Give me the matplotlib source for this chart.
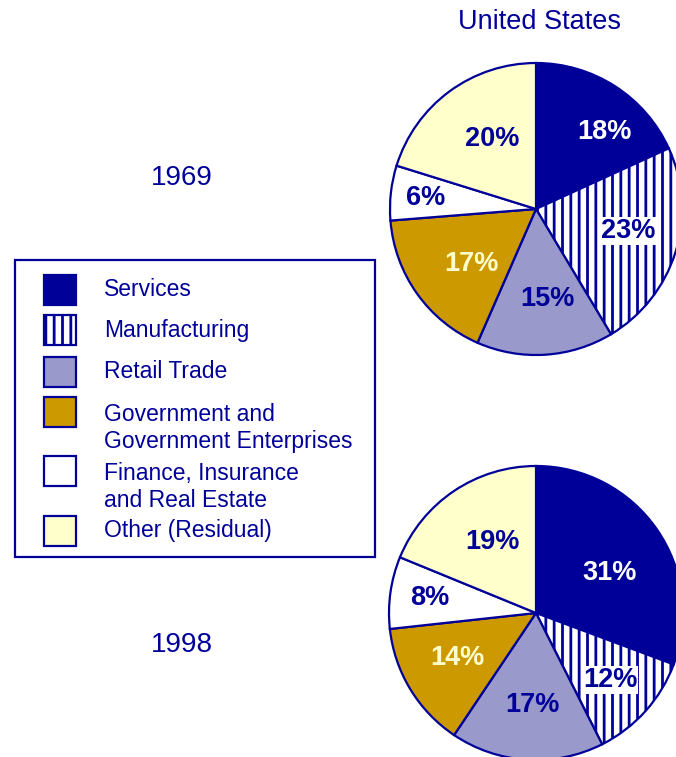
import matplotlib
matplotlib.use("Agg")
import matplotlib.pyplot as plt
from matplotlib.patches import Rectangle

# data
sectors = ["Services", "Manufacturing", "Retail Trade",
           "Government and\nGovernment Enterprises",
           "Finance, Insurance\nand Real Estate", "Other (Residual)"]
share_1969 = [18, 23, 15, 17, 6, 20]
share_1998 = [31, 12, 17, 14, 8, 19]
years = ["1969", "1998"]

navy = "#000099"
fills = ["#000099", "#ffffff", "#9999cc", "#cc9900", "#ffffff", "#ffffcc"]
hatches = ["", "||", "", "", "", ""]
label_colors = ["#ffffff", navy, navy, "#ffffcc", navy, navy]

W, H = 676, 757
plt.rcParams["font.family"] = ["Liberation Sans", "DejaVu Sans"]
plt.rcParams["hatch.linewidth"] = 2.0


def Y(y):
    return H - y


fig = plt.figure(figsize=(W / 100, H / 100), dpi=100)
ax = fig.add_axes([0, 0, 1, 1])

# pie centres (pixels) and label offsets from centre
pies = [
    (share_1969, (536, 209), 146,
     [(68, -77), (92, 22), (11, 90), (-65, 55), (-110, -11), (-44, -70)]),
    (share_1998, (536, 613), 147,
     [(74, -40), (74, 67), (-4, 92), (-79, 45), (-106, -15), (-44, -71)]),
]

for vals, (cx, cy), r, offs in pies:
    ax.pie(vals, colors=fills, hatch=hatches, startangle=90, counterclock=False,
           center=(cx, Y(cy)), radius=r,
           wedgeprops=dict(edgecolor=navy, linewidth=1.6))
    for v, (dx, dy), c, hat in zip(vals, offs, label_colors, hatches):
        box = dict(facecolor="white", edgecolor="none", pad=0.5) if hat else None
        ax.text(cx + dx, Y(cy + dy), f"{v}%", ha="center", va="center",
                fontsize=19.5, fontweight="bold", color=c, bbox=box)

ax.text(540, Y(22), "United States", ha="center", va="center",
        fontsize=19.5, color=navy)
ax.text(182, Y(178), years[0], ha="center", va="center", fontsize=20, color=navy)
ax.text(182, Y(645), years[1], ha="center", va="center", fontsize=20, color=navy)

# legend box
ax.add_patch(Rectangle((15, Y(557)), 360, 297, facecolor="white",
                       edgecolor=navy, linewidth=1.6, zorder=3))
swatch_tops = [275, 315, 357, 397, 456, 516]
text_y = [290, 331, 372, 428, 487, 530]
for name, col, hat, top, ty in zip(sectors, fills, hatches, swatch_tops, text_y):
    ax.add_patch(Rectangle((44, Y(top + 30)), 32, 30, facecolor=col,
                           edgecolor=navy, linewidth=1.6, hatch=hat, zorder=4))
    ax.text(104, Y(ty), name, ha="left", va="center", fontsize=16.5,
            color=navy, linespacing=1.2, zorder=5)

ax.set_xlim(0, W)
ax.set_ylim(0, H)
ax.set_aspect("equal")
ax.axis("off")

fig.savefig("out.png", dpi=100)
